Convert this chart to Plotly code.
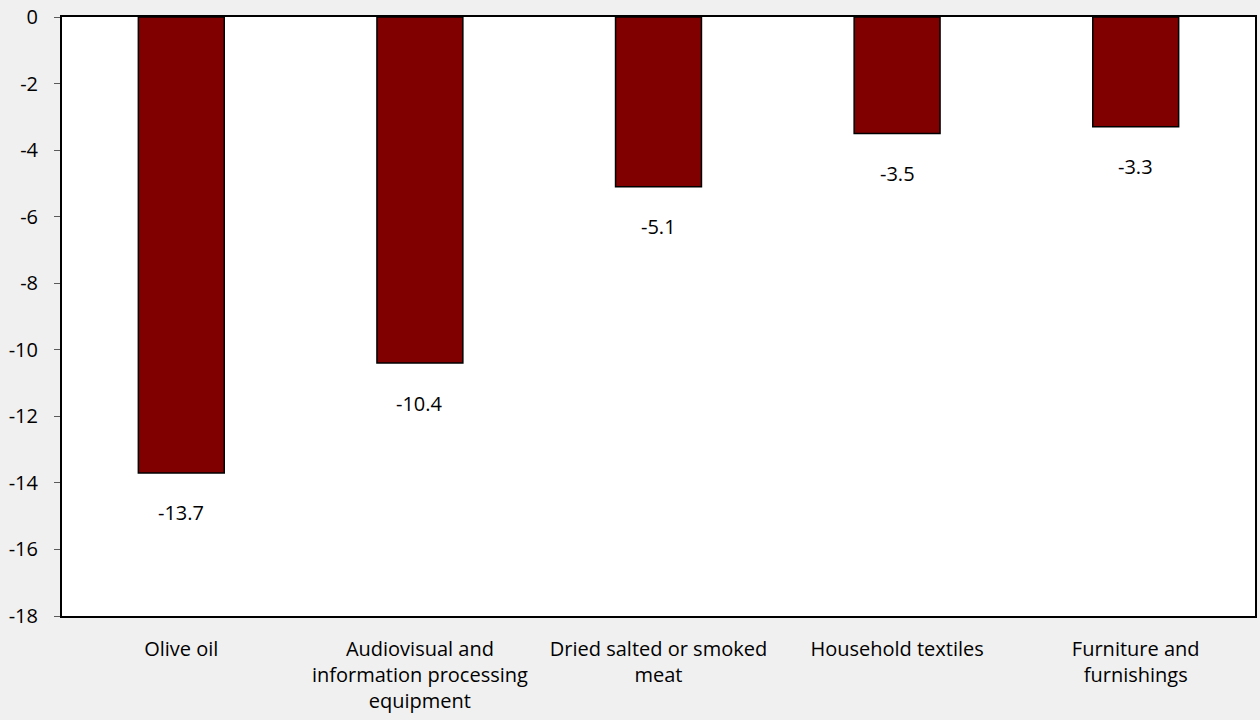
import plotly.graph_objects as go

# Price change by item (percent)
categories = [
    "Olive oil",
    "Audiovisual and<br>information processing<br>equipment",
    "Dried salted or smoked<br>meat",
    "Household textiles",
    "Furniture and<br>furnishings",
]
values = [-13.7, -10.4, -5.1, -3.5, -3.3]
y_ticks = [0, -2, -4, -6, -8, -10, -12, -14, -16, -18]

FONT = "Open Sans"
FONT_SIZE = 20
BAR_COLOR = "#800000"
BG = "#f0f0f0"

positions = list(range(len(categories)))

fig = go.Figure()
fig.add_trace(
    go.Bar(
        x=positions,
        y=values,
        width=0.36,
        marker=dict(color=BAR_COLOR, line=dict(color="#000000", width=1.5)),
        hoverinfo="skip",
    )
)

# Value labels placed below each bar end
for xi, v in zip(positions, values):
    fig.add_annotation(
        x=xi, y=v, text=f"{v:.1f}", showarrow=False,
        yshift=-40, yanchor="middle",
        font=dict(family=FONT, size=FONT_SIZE, color="#000000"),
    )

fig.update_layout(
    width=1260, height=720,
    margin=dict(l=62, r=3, t=16, b=104),
    paper_bgcolor=BG, plot_bgcolor="#ffffff",
    showlegend=False,
    font=dict(family=FONT, size=FONT_SIZE, color="#000000"),
    xaxis=dict(
        range=[-0.5, len(categories) - 0.5],
        tickmode="array", tickvals=positions, ticktext=categories,
        ticks="", showgrid=False, zeroline=False,
        showline=True, linecolor="#000000", linewidth=2, mirror=True,
        ticklabelstandoff=14,
    ),
    xaxis2=dict(
        overlaying="x", side="top", anchor="y",
        range=[-0.5, len(categories) - 0.5],
        tickmode="array", tickvals=[p + 0.5 for p in positions[:-1]],
        ticks="inside", ticklen=7, tickcolor="#595959", tickwidth=1,
        showticklabels=False, showgrid=False, zeroline=False, showline=False,
    ),
    yaxis=dict(
        range=[-18, 0],
        tickmode="array", tickvals=y_ticks, ticktext=[str(t) for t in y_ticks],
        ticks="outside", ticklen=6, tickcolor="#595959", tickwidth=1,
        showgrid=False, zeroline=False,
        showline=True, linecolor="#000000", linewidth=2, mirror=True,
        ticklabelstandoff=12,
    ),
)

fig.write_html("out.html")
